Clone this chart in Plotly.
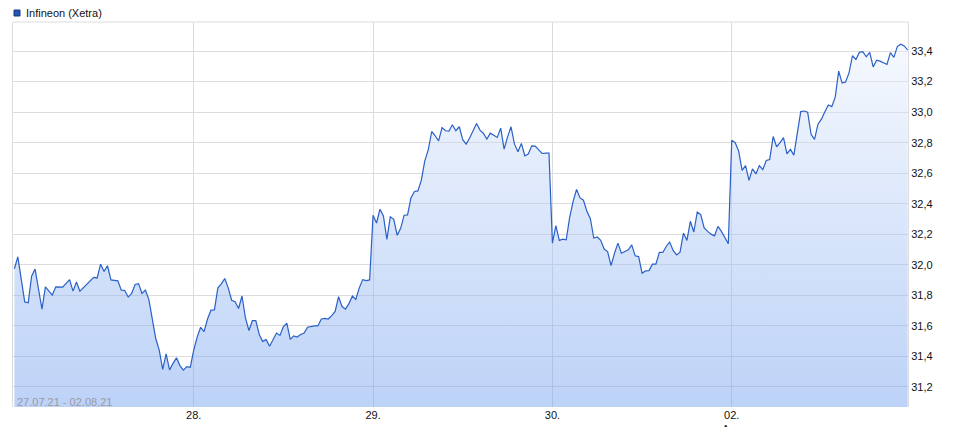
import plotly.graph_objects as go

# ---------------- data (Infineon, Xetra, 10-minute prices) ----------------
series_name = "Infineon (Xetra)"
period_text = "27.07.21 - 02.08.21"
day_ticks = ["28.", "29.", "30.", "02.<br>Aug"]

# 27.07.21 - minutes after the 09:00 open, and prices
jul27_minutes = [0, 10, 30, 40, 50, 60, 80, 90, 110, 120, 140, 160, 170, 180, 190,
                 230, 240, 250, 260, 270, 280, 300, 310, 320, 330, 340, 350, 360,
                 370, 380, 390, 400, 410, 420, 430, 440, 450, 460, 470, 480, 490,
                 500, 510]
jul27 = [31.974, 32.052, 31.757, 31.751, 31.925, 31.972, 31.710, 31.856, 31.802,
         31.856, 31.854, 31.903, 31.828, 31.888, 31.828, 31.918, 31.914, 32.004,
         31.957, 31.994, 31.901, 31.895, 31.834, 31.832, 31.789, 31.813, 31.871,
         31.877, 31.813, 31.834, 31.772, 31.634, 31.516, 31.441, 31.316, 31.417,
         31.312, 31.355, 31.391, 31.340, 31.310, 31.333, 31.329]

# full sessions 09:00 ... 17:30, every 10 minutes
jul28 = [31.441, 31.527, 31.591, 31.563, 31.645, 31.703, 31.705, 31.849, 31.875, 31.910,
         31.849, 31.768, 31.759, 31.714, 31.796, 31.652, 31.570, 31.634, 31.634, 31.544,
         31.499, 31.510, 31.467, 31.510, 31.553, 31.538, 31.596, 31.617, 31.512, 31.535,
         31.527, 31.544, 31.553, 31.591, 31.598, 31.600, 31.600, 31.645, 31.649, 31.645,
         31.667, 31.695, 31.791, 31.727, 31.710, 31.746, 31.796, 31.774, 31.849, 31.903,
         31.897, 31.901]
jul29 = [32.325, 32.274, 32.364, 32.320, 32.167, 32.314, 32.298, 32.193, 32.239, 32.325,
         32.327, 32.440, 32.480, 32.484, 32.554, 32.681, 32.753, 32.873, 32.845, 32.812,
         32.899, 32.878, 32.875, 32.917, 32.878, 32.904, 32.819, 32.790, 32.830, 32.878,
         32.926, 32.882, 32.860, 32.823, 32.862, 32.849, 32.834, 32.895, 32.757, 32.838,
         32.904, 32.790, 32.740, 32.795, 32.714, 32.725, 32.779, 32.777, 32.753, 32.729,
         32.731, 32.731]
jul30 = [32.142, 32.256, 32.160, 32.168, 32.164, 32.311, 32.416, 32.493, 32.438, 32.423,
         32.350, 32.302, 32.175, 32.182, 32.160, 32.103, 32.087, 31.995, 32.076, 32.142,
         32.076, 32.087, 32.098, 32.131, 32.059, 32.054, 31.945, 31.960, 31.962, 32.004,
         32.004, 32.081, 32.081, 32.120, 32.149, 32.094, 32.065, 32.083, 32.208, 32.160,
         32.285, 32.215, 32.346, 32.329, 32.241, 32.219, 32.201, 32.190, 32.252, 32.219,
         32.175, 32.138]
aug02 = [32.815, 32.800, 32.745, 32.619, 32.650, 32.553, 32.628, 32.595, 32.650, 32.623,
         32.683, 32.690, 32.840, 32.773, 32.800, 32.833, 32.727, 32.756, 32.718, 32.866,
         33.003, 33.007, 32.999, 32.855, 32.822, 32.921, 32.954, 33.003, 33.047, 33.036,
         33.098, 33.268, 33.190, 33.197, 33.257, 33.369, 33.345, 33.391, 33.396, 33.362,
         33.391, 33.296, 33.340, 33.334, 33.323, 33.312, 33.389, 33.358, 33.429, 33.444,
         33.433, 33.407]

y_ticks = [31.2, 31.4, 31.6, 31.8, 32.0, 32.2, 32.4, 32.6, 32.8, 33.0, 33.2, 33.4]

# ---------------- build trading-clock x axis ----------------
SESSION = 520          # one trading session slot (09:00-17:30 plus one 10-min step)
session_minutes = list(range(0, 520, 10))

xs, ys = [], []
sessions = [(jul27_minutes, jul27), (session_minutes, jul28), (session_minutes, jul29),
            (session_minutes, jul30), (session_minutes, aug02)]
for d, (mins, prices) in enumerate(sessions):
    for m, p in zip(mins, prices):
        xs.append(d * SESSION + m)
        ys.append(p)

tick_vals = [SESSION * (i + 1) for i in range(len(day_ticks))]

fig = go.Figure()
fig.add_trace(go.Scatter(
    x=xs, y=ys, mode="lines",
    line=dict(color="#2a60c8", width=1.2),
    fill="tozeroy",
    fillgradient=dict(
        type="vertical",
        start=31.069, stop=33.45,
        colorscale=[[0, "rgba(106,155,237,0.45)"], [1, "rgba(235,241,253,0.45)"]],
    ),
    hoverinfo="skip",
    showlegend=False,
))

GRID = "#dcdcdc"
fig.update_layout(
    width=972, height=427,
    margin=dict(l=13, r=64, t=22, b=20),
    paper_bgcolor="white", plot_bgcolor="white",
    separators=",.",
    font=dict(family="Liberation Sans, Arial, sans-serif", size=11, color="#222"),
    showlegend=False,
    xaxis=dict(
        range=[-4, 2591], tickmode="array", tickvals=tick_vals, ticktext=day_ticks,
        showgrid=True, gridcolor=GRID, gridwidth=1, zeroline=False, automargin=False,
        showline=False, ticks="", tickfont=dict(size=11, color="#111"),
    ),
    yaxis=dict(
        range=[31.069, 33.59], side="right", tickmode="array", tickvals=y_ticks,
        tickformat=".1f", showgrid=True, gridcolor=GRID, gridwidth=1, zeroline=False,
        automargin=False,
        showline=True, mirror=True, linecolor=GRID, linewidth=1, ticks="",
        tickfont=dict(size=11, color="#111"),
    ),
    shapes=[
        dict(type="line", xref="paper", yref="paper", x0=0, x1=1, y0=1, y1=1,
             line=dict(color=GRID, width=1)),
        dict(type="rect", xref="paper", yref="paper", xsizemode="pixel", ysizemode="pixel",
             xanchor=0, yanchor=1, x0=1, x1=7, y0=6, y1=12,
             fillcolor="#2456b4", line=dict(color="#163a80", width=1)),
    ],
    annotations=[
        dict(text=series_name, xref="paper", yref="paper", x=0.0123, y=1.0234,
             xanchor="left", yanchor="middle", showarrow=False,
             font=dict(size=11, color="#111")),
        dict(text=period_text, xref="paper", yref="paper", x=0.002, y=0.013,
             xanchor="left", yanchor="middle", showarrow=False,
             font=dict(size=11, color="#9a9aa6")),
    ],
)

fig.write_html("out.html", config={"displayModeBar": False},
               post_script="document.body.style.margin='0';")
